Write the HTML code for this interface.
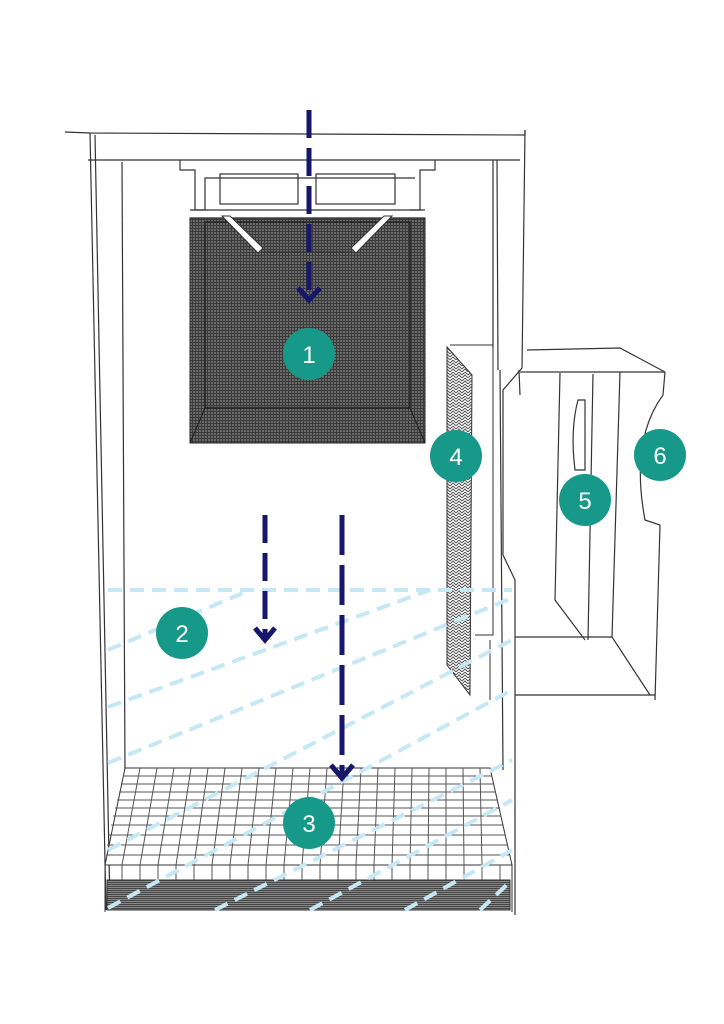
<!DOCTYPE html>
<html><head><meta charset="utf-8"><style>
html,body{margin:0;padding:0;background:#fff;}
svg{display:block}
text{font-family:"Liberation Sans",sans-serif;font-size:24px;fill:#fff;text-anchor:middle;}
</style></head><body>
<svg width="724" height="1024" viewBox="0 0 724 1024" xmlns="http://www.w3.org/2000/svg">
<defs>
<pattern id="mesh" width="3" height="3" patternUnits="userSpaceOnUse">
<rect width="3" height="3" fill="#6a6a6a"/>
<path d="M0 .5H3M.5 0V3" stroke="#3a3a3a" stroke-width="1"/>
</pattern>
<pattern id="hex" width="6" height="6" patternUnits="userSpaceOnUse">
<rect width="6" height="6" fill="#fff"/>
<path d="M0 3 L3 0 L6 3 M0 6 L3 3 L6 6" stroke="#555" stroke-width="1" fill="none"/>
</pattern>
<pattern id="dark" width="2" height="2" patternUnits="userSpaceOnUse">
<rect width="2" height="2" fill="#888"/><path d="M0 .5H2" stroke="#444"/>
</pattern>
</defs>
<g fill="none" stroke="#333" stroke-width="1.2">
<!-- cabinet -->
<path d="M65 132 L90 133 L525 135 L525 130"/>
<path d="M88 160 L520 160"/>
<path d="M90 133 L106 910"/>
<path d="M95 135 L110 910"/>
<path d="M122 162 L125 770"/>
<path d="M497 160 L498 370"/>
<path d="M493 160 L493 348"/>
<path d="M525 130 L522 368 L503 390 L503 555 L515 580 L515 915"/>
<path d="M519 370 L520 395"/>
<path d="M503 770 L500 370"/>
<!-- top housing -->
<rect x="220" y="174" width="78" height="30"/>
<rect x="316" y="174" width="79" height="30"/>
<path d="M180 160 L180 170 L195 170 L195 210 L205 210 L205 178 L415 178"/>
<path d="M435 160 L435 170 L420 170 L420 210 L410 210"/>
<path d="M190 210 L425 210 M190 218 L425 218"/>
</g>
<!-- filter 1 -->
<polygon points="190,218 425,218 425,443 190,443" fill="url(#mesh)" stroke="#222"/>
<polygon points="205,222 410,222 410,408 205,408" fill="url(#mesh)" stroke="#222" stroke-width="1.5"/>
<path d="M190 443 L205 408 M425 443 L410 408" stroke="#222"/>
<polygon points="222,216 258,253 263,248 230,216" fill="#fff" stroke="#333"/>
<polygon points="392,216 356,253 351,248 384,216" fill="#fff" stroke="#333"/>
<path d="M263 252 L352 252" stroke="#333"/>
<!-- filter 4 -->
<polygon points="447,347 472,375 470,695 447,665" fill="url(#hex)" stroke="#333"/>
<path d="M450 345 L493 345 L493 635 L475 635 M490 640 L490 700" fill="none" stroke="#333"/>
<!-- unit 5/6 -->
<g fill="none" stroke="#333" stroke-width="1.2">
<path d="M527 350 L620 348 L665 372 L527 372"/>
<path d="M520 372 L527 372"/>
<path d="M560 373 L555 600 L585 640"/>
<path d="M593 374 L588 640"/>
<path d="M620 372 L612 637 L650 695"/>
<path d="M665 372 L663 395 Q630 440 645 520 L660 525 L655 700"/>
<path d="M515 637 L612 637 M515 695 L655 695"/>
<path d="M578 400 Q570 430 575 470 L585 470 L585 400 Z"/>
</g>
<!-- grid floor -->
<polygon points="125,768 490,768 512,865 105,865" fill="#fff" stroke="#333"/>
<g stroke="#555" stroke-width="1">
<path d="M123 776H492M121 784H494M119 792H496M117 800H498M115 808H500M113 816H501M111 825H503M109 835H505M107 845H507M106 855H509"/>
<path d="M140 768L122 865M157 768L140 865M174 768L158 865M191 768L176 865M208 768L194 865M225 768L212 865M242 768L230 865M259 768L248 865M276 768L266 865M293 768L284 865M310 768L302 865M327 768L320 865M344 768L338 865M361 768L356 865M378 768L374 865M395 768L392 865M412 768L410 865M429 768L428 865M446 768L446 865M463 768L464 865M480 768L482 865"/>
<path d="M122 865V880M140 865V880M158 865V880M176 865V880M194 865V880M212 865V880M230 865V880M248 865V880M266 865V880M284 865V880M302 865V880M320 865V880M338 865V880M356 865V880M374 865V880M392 865V880M410 865V880M428 865V880M446 865V880M464 865V880M482 865V880M500 865V880"/>
</g>
<rect x="107" y="880" width="403" height="30" fill="url(#dark)" stroke="#333"/>
<path d="M105 865 L105 912 M512 865 L512 912" stroke="#333"/>
<!-- light blue dashes -->
<g stroke="#c6e8f4" stroke-width="4" stroke-dasharray="14 8" fill="none">
<path d="M108 590 L512 590"/>
<path d="M108 650 L250 590"/>
<path d="M108 707 L430 590"/>
<path d="M108 763 L512 598"/>
<path d="M108 850 L512 640"/>
<path d="M108 908 L512 690"/>
<path d="M215 910 L512 760"/>
<path d="M310 910 L512 800"/>
<path d="M405 910 L512 850"/>
<path d="M480 910 L512 880"/>
</g>
<!-- navy arrows -->
<g stroke="#16166a" stroke-width="5" fill="none">
<path d="M309 110 L309 298" stroke-dasharray="28 10"/>
<path d="M298 288 L309 300 L320 288"/>
<path d="M265 515 L265 638" stroke-dasharray="28 10"/>
<path d="M255 628 L265 640 L275 628"/>
<path d="M342 515 L342 776" stroke-dasharray="40 10"/>
<path d="M331 765 L342 778 L353 765"/>
</g>
<!-- circles -->
<g fill="#17998a">
<circle cx="309" cy="354" r="26"/><circle cx="182" cy="633" r="26"/>
<circle cx="309" cy="823" r="26"/><circle cx="456" cy="456" r="26"/>
<circle cx="585" cy="500" r="26"/><circle cx="660" cy="455" r="26"/>
</g>
<text x="309" y="363">1</text><text x="182" y="642">2</text>
<text x="309" y="832">3</text><text x="456" y="465">4</text>
<text x="585" y="509">5</text><text x="660" y="464">6</text>
</svg>
</body></html>
